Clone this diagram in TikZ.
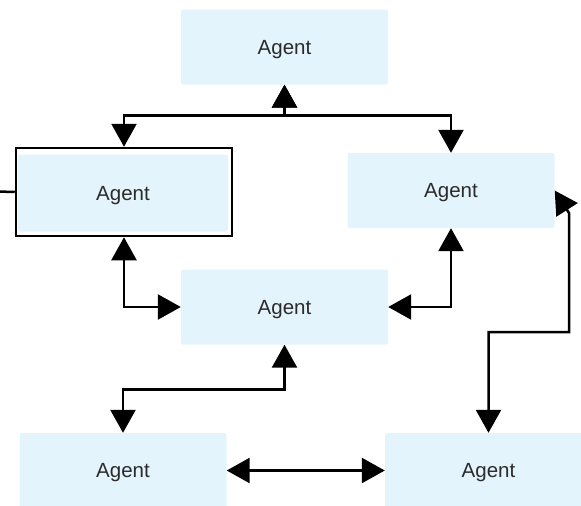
\documentclass[tikz,border=0pt]{standalone}
\usepackage{fontspec}
\setmainfont{Liberation Sans}
\usepackage{tikz}
\usetikzlibrary{positioning}
\usetikzlibrary{arrows.meta}

\definecolor{agentblue}{HTML}{E4F4FD}
\definecolor{agenttext}{HTML}{2B2B2B}

\begin{document}
\begin{tikzpicture}
    [x=1pt, y=-1pt, every node/.style={font=\fontsize{20.5}{24}\selectfont, text=agenttext},
    agent/.style={fill=agentblue, draw=none, rounded corners=2pt, text depth=0pt,
    minimum width=207pt, minimum height=75pt},
    selframe/.style={draw=black, line width=2.5pt, minimum width=216pt, minimum height=88pt},
    link/.style={{Triangle[length=23pt,width=25pt]}-{Triangle[length=23pt,width=25pt]},
    line width=2.5pt, draw=black}]

    \clip (0,0) rectangle (581,506);

    % Draw the agents
    \node[agent] (top) at (284.5,47) {Agent};
    \node[agent, minimum width=210pt, minimum height=77pt] (left) at (123,193) {Agent};
    \node[selframe] (leftsel) at (124,192) {};
    \node[agent] (right) at (451,190.5) {Agent};
    \node[agent] (mid) at (284.5,307) {Agent};
    \node[agent] (bl) at (123,470.5) {Agent};
    \node[agent] (br) at (488.5,470.5) {Agent};

    \coordinate (offleft) at (-20,191);
    \coordinate (rbend) at (569,213);
    \coordinate (rlow) at (569,332);

    % Draw the links
    \draw[link] (top.south) -- ++(0,31) -| (leftsel.north);
    \draw[link] (top.south) -- ++(0,31) -| (right.north);
    \draw[link] (leftsel.south) |- (mid.west);
    \draw[link] (right.south) |- (mid.east);
    \draw[link] (mid.south) -- ++(0,45) -| (bl.north);
    \draw[link] (bl.east) -- (br.west);
    \draw[link] (right.east) -- (rbend) -- (rlow) -| (br.north);
    \draw[line width=2.5pt] (offleft) -- (leftsel.west);

  \end{tikzpicture}
\end{document}
